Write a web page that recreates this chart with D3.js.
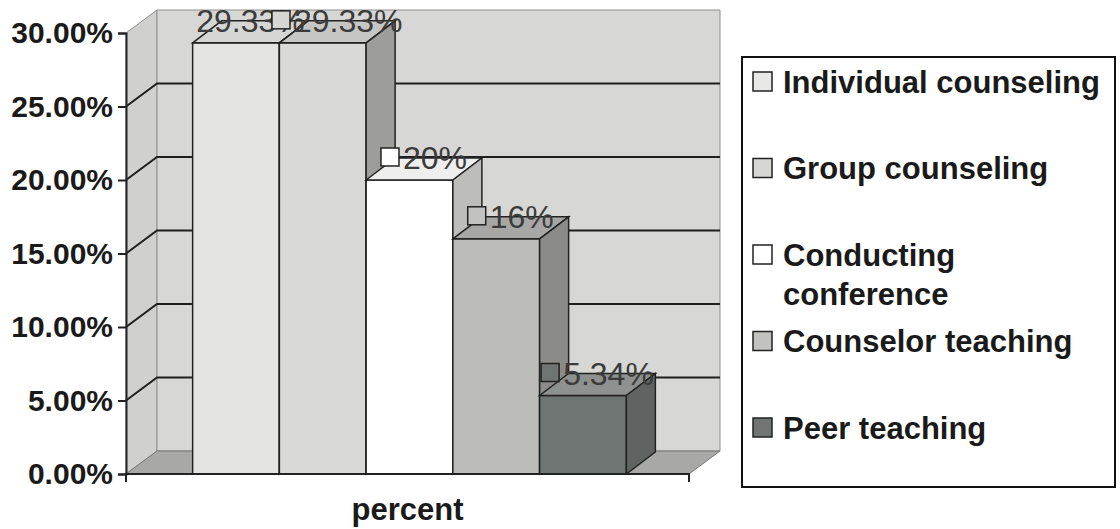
<!DOCTYPE html>
<html>
<head>
<meta charset="utf-8">
<script src="https://cdn.jsdelivr.net/npm/d3@7"></script>
<style>
  body { margin: 0; background: #fff; }
  svg { display: block; font-family: "Liberation Sans", Arial, sans-serif; }
</style>
</head>
<body>
<svg width="1120" height="529"></svg>
<script>
const category = "percent";
const series = ["Individual counseling", "Group counseling", "Conducting conference", "Counselor teaching", "Peer teaching"];
const legendLines = [["Individual counseling"], ["Group counseling"], ["Conducting", "conference"], ["Counselor teaching"], ["Peer teaching"]];
const values = [0.2933, 0.2933, 0.20, 0.16, 0.0534];
const labels = ["29.33%", "29.33%", "20%", "16%", "5.34%"];
const showKey = [false, true, true, true, true];
const yTicks = [0, 0.05, 0.10, 0.15, 0.20, 0.25, 0.30];

// face colours: front, top, side
const colors = [
  { front: "#e4e4e2", top: "#d6d6d4", side: "#b4b4b2" },
  { front: "#d9d9d7", top: "#c6c6c4", side: "#9d9d9b" },
  { front: "#ffffff", top: "#eeeeee", side: "#bdbdbb" },
  { front: "#bcbdbb", top: "#a7a8a6", side: "#8b8c8a" },
  { front: "#6f7573", top: "#8d918f", side: "#5f6462" }
];
const keyColors = ["#e8e8e6", "#d6d6d4", "#ffffff", "#c2c3c1", "#6f7573"];

const svg = d3.select("svg");

// wall depth and bar depth (oblique projection)
const wd = { x: 31, y: -23 };
const bd = { x: 29, y: -22 };

const x0 = d3.scaleBand().domain([category]).range([126, 689]);
const x1 = d3.scaleBand()
  .domain(series)
  .range([x0(category) + 2, x0(category) + x0.bandwidth() + 2])
  .paddingInner(0)
  .paddingOuter(0.745);
const y = d3.scaleLinear().domain([0, 0.30]).range([474, 33]);

const left = x0.range()[0], right = x0.range()[1];
const pt = (p) => p.join(",");

// walls
const walls = svg.append("g").attr("class", "walls");
walls.append("polygon")
  .attr("points", [[left, y(0.30)], [left + wd.x, y(0.30) + wd.y], [left + wd.x, y(0) + wd.y], [left, y(0)]].map(pt).join(" "))
  .attr("fill", "#d0d0ce").attr("stroke", "#8f8f8f").attr("stroke-width", 1);
walls.append("polygon")
  .attr("points", [[left + wd.x, y(0.30) + wd.y], [right + wd.x, y(0.30) + wd.y], [right + wd.x, y(0) + wd.y], [left + wd.x, y(0) + wd.y]].map(pt).join(" "))
  .attr("fill", "#d7d7d5").attr("stroke", "#8f8f8f").attr("stroke-width", 1);
walls.append("polygon")
  .attr("points", [[left, y(0)], [right, y(0)], [right + wd.x, y(0) + wd.y], [left + wd.x, y(0) + wd.y]].map(pt).join(" "))
  .attr("fill", "#a8a9a7").attr("stroke", "#777").attr("stroke-width", 1);

// gridlines on side and back wall
svg.append("g").attr("class", "grid")
  .selectAll("polyline")
  .data(yTicks.filter((t) => t > 0 && t < 0.30))
  .enter()
  .append("polyline")
  .attr("points", (d) => [[left, y(d)], [left + wd.x, y(d) + wd.y], [right + wd.x, y(d) + wd.y]].map(pt).join(" "))
  .attr("fill", "none")
  .attr("stroke", "#1e1e1e")
  .attr("stroke-width", 2);

// bars
const bars = svg.append("g").attr("class", "bars")
  .selectAll("g")
  .data(series.map((s, i) => ({ s, i, v: values[i] })))
  .enter()
  .append("g");

bars.append("rect")
  .attr("x", (d) => x1(d.s))
  .attr("y", (d) => y(d.v))
  .attr("width", x1.bandwidth())
  .attr("height", (d) => y(0) - y(d.v))
  .attr("fill", (d) => colors[d.i].front)
  .attr("stroke", "#222")
  .attr("stroke-width", 1.5);

bars.append("polygon")
  .attr("points", (d) => {
    const xa = x1(d.s), xb = xa + x1.bandwidth(), yt = y(d.v);
    return [[xa, yt], [xa + bd.x, yt + bd.y], [xb + bd.x, yt + bd.y], [xb, yt]].map(pt).join(" ");
  })
  .attr("fill", (d) => colors[d.i].top)
  .attr("stroke", "#222")
  .attr("stroke-width", 1.5);

bars.append("polygon")
  .attr("points", (d) => {
    const xb = x1(d.s) + x1.bandwidth(), yt = y(d.v);
    return [[xb, yt], [xb + bd.x, yt + bd.y], [xb + bd.x, y(0) + bd.y], [xb, y(0)]].map(pt).join(" ");
  })
  .attr("fill", (d) => colors[d.i].side)
  .attr("stroke", "#222")
  .attr("stroke-width", 1.5);

// axes
const yAxis = d3.axisLeft(y)
  .tickValues(yTicks)
  .tickFormat(d3.format(".2%"))
  .tickSize(8)
  .tickPadding(5);
const gy = svg.append("g").attr("transform", `translate(${left},0)`).call(yAxis);
gy.select(".domain").attr("stroke", "#222").attr("stroke-width", 2);
gy.selectAll(".tick line").attr("stroke", "#222").attr("stroke-width", 2);
gy.selectAll(".tick text")
  .attr("font-size", 30).attr("font-weight", "bold").attr("fill", "#1a1a1a")
  .attr("font-family", "Liberation Sans, Arial, sans-serif");

const xAxis = d3.axisBottom(x0).tickSize(0).tickPadding(24);
const gx = svg.append("g").attr("transform", `translate(0,${y(0)})`).call(xAxis);
gx.select(".domain").attr("d", `M${left},8V0H${right}V8`).attr("stroke", "#222").attr("stroke-width", 2).attr("fill", "none");
gx.selectAll(".tick text")
  .attr("font-size", 31).attr("font-weight", "bold").attr("fill", "#1a1a1a")
  .attr("font-family", "Liberation Sans, Arial, sans-serif");

// data labels with legend keys
const dl = svg.append("g").attr("class", "data-labels")
  .selectAll("g")
  .data(series.map((s, i) => ({ s, i, v: values[i] })))
  .enter()
  .append("g");

dl.each(function (d) {
  const g = d3.select(this);
  const cx = x1(d.s) + x1.bandwidth() / 2 + bd.x / 2;
  const cy = y(d.v) + bd.y;
  const t = g.append("text")
    .attr("font-size", 32)
    .attr("fill", "#3b3b3b")
    .attr("dy", "0.35em")
    .text(labels[d.i]);
  const tw = t.node().getComputedTextLength();
  const keyW = showKey[d.i] ? 19 : 0, gap = showKey[d.i] ? 3 : 0;
  const xl = cx - (keyW + gap + tw) / 2;
  t.attr("x", xl + keyW + gap).attr("y", cy);
  if (showKey[d.i]) {
    g.append("rect")
      .attr("x", xl).attr("y", cy - 10)
      .attr("width", 18).attr("height", 18)
      .attr("fill", keyColors[d.i])
      .attr("stroke", "#222").attr("stroke-width", 1.5);
  }
});

// legend
const legend = svg.append("g").attr("class", "legend");
legend.append("rect")
  .attr("x", 742).attr("y", 57).attr("width", 373).attr("height", 430)
  .attr("fill", "#fff").attr("stroke", "#111").attr("stroke-width", 2);

const legendY = d3.scalePoint().domain(series).range([82, 428]);
const items = legend.selectAll("g.item")
  .data(series.map((s, i) => ({ s, i })))
  .enter()
  .append("g").attr("class", "item");

items.append("rect")
  .attr("x", 753)
  .attr("y", (d) => legendY(d.s) - 10)
  .attr("width", 19).attr("height", 19)
  .attr("fill", (d) => keyColors[d.i])
  .attr("stroke", "#222").attr("stroke-width", 1.5);

items.each(function (d) {
  const t = d3.select(this).append("text")
    .attr("x", 783)
    .attr("y", legendY(d.s))
    .attr("font-size", 31)
    .attr("font-weight", "bold")
    .attr("fill", "#1a1a1a");
  legendLines[d.i].forEach((line, k) => {
    t.append("tspan").attr("x", 783).attr("dy", k === 0 ? "0.35em" : "1.25em").text(line);
  });
});
</script>
</body>
</html>
